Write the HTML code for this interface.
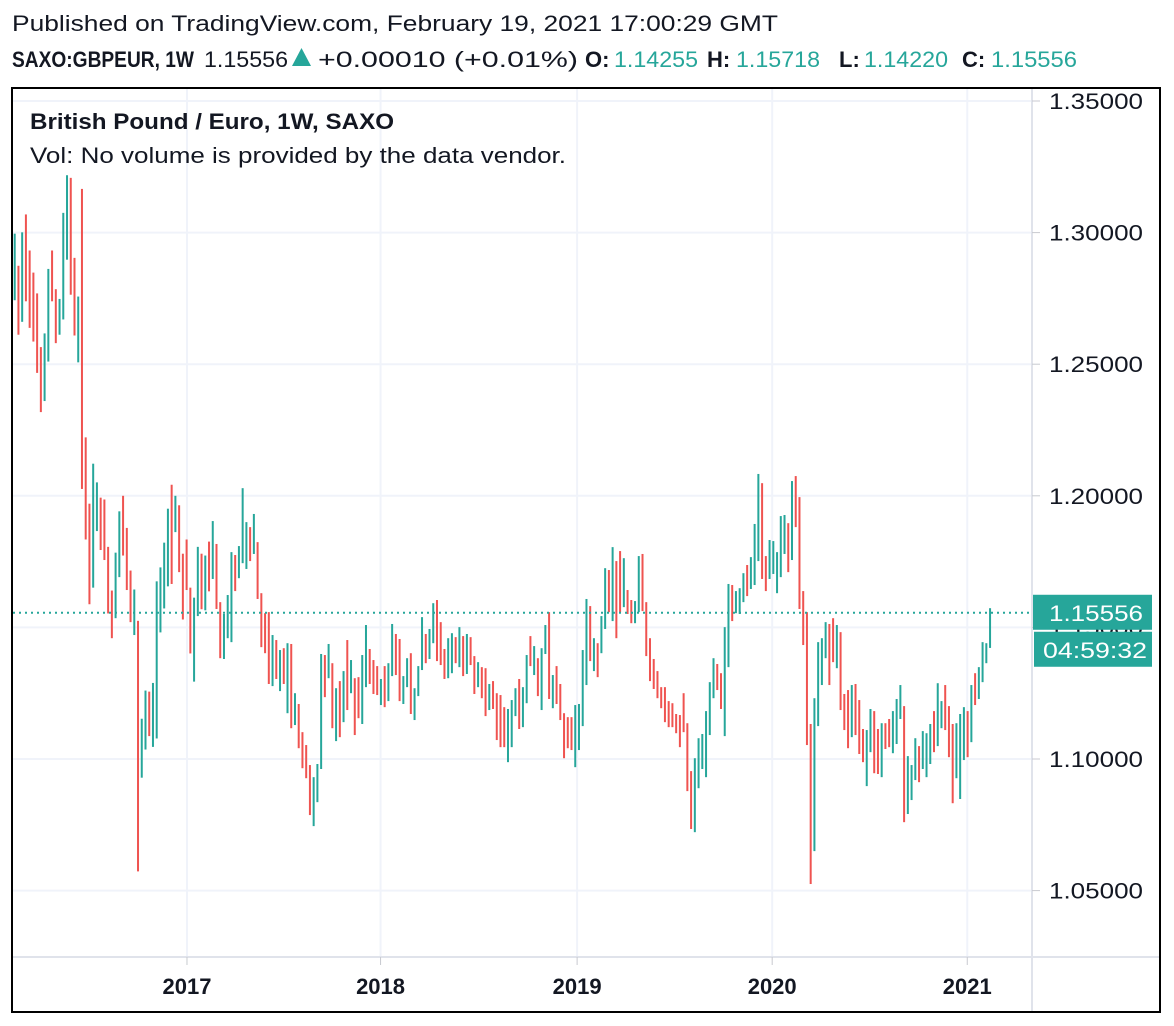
<!DOCTYPE html>
<html><head><meta charset="utf-8"><title>GBPEUR 1W</title>
<style>
html,body{margin:0;padding:0;background:#fff;}
svg{display:block;font-family:"Liberation Sans",sans-serif;}
</style></head>
<body>
<svg id="chart" width="1174" height="1026" viewBox="0 0 1174 1026">
  <text x="12" y="31" font-size="22" fill="#131722" textLength="766" lengthAdjust="spacingAndGlyphs">Published on TradingView.com, February 19, 2021 17:00:29 GMT</text>
  <g font-size="22" fill="#131722">
    <text x="12" y="67" font-weight="bold" textLength="182" lengthAdjust="spacingAndGlyphs">SAXO:GBPEUR, 1W</text>
    <text x="204" y="67" textLength="84" lengthAdjust="spacingAndGlyphs">1.15556</text>
    <polygon points="292,66 311,66 301.5,48" fill="#26a69a"/>
    <text x="318" y="67" textLength="260" lengthAdjust="spacingAndGlyphs">+0.00010 (+0.01%)</text>
    <text x="585" y="67" font-weight="bold">O:</text>
    <text x="614" y="67" fill="#26a69a" textLength="84" lengthAdjust="spacingAndGlyphs">1.14255</text>
    <text x="707" y="67" font-weight="bold">H:</text>
    <text x="736" y="67" fill="#26a69a" textLength="84" lengthAdjust="spacingAndGlyphs">1.15718</text>
    <text x="839" y="67" font-weight="bold">L:</text>
    <text x="864" y="67" fill="#26a69a" textLength="84" lengthAdjust="spacingAndGlyphs">1.14220</text>
    <text x="962" y="67" font-weight="bold">C:</text>
    <text x="991" y="67" fill="#26a69a" textLength="86" lengthAdjust="spacingAndGlyphs">1.15556</text>
  </g>
  <rect x="12" y="88" width="1148" height="924" fill="#fff" stroke="#000" stroke-width="2"/>
  <g id="grid"></g>
  <g id="bars"></g>
  <line x1="1032" y1="89" x2="1032" y2="1011" stroke="#e0e3eb" stroke-width="2"/>
  <line x1="13" y1="957" x2="1159" y2="957" stroke="#e0e3eb" stroke-width="2"/>
  <g id="yaxis"></g>
  <g id="xaxis"></g>
  <text x="30" y="129" font-size="22" font-weight="bold" fill="#131722" textLength="364" lengthAdjust="spacingAndGlyphs">British Pound / Euro, 1W, SAXO</text>
  <text x="30" y="163" font-size="22" fill="#131722" textLength="536" lengthAdjust="spacingAndGlyphs">Vol: No volume is provided by the data vendor.</text>
  <g id="lastprice"></g>
</svg>
<script>
const highs = [1.2996,1.2874,1.3001,1.3069,1.2932,1.2848,1.2769,1.2565,1.2617,1.2862,1.2932,1.2785,1.2748,1.3075,1.3218,1.3208,1.2904,1.2757,1.3166,1.2222,1.1970,1.2122,1.2051,1.1993,1.1986,1.1806,1.1640,1.1784,1.1941,1.2000,1.1878,1.1716,1.1644,1.1525,1.1153,1.1260,1.1256,1.1289,1.1675,1.1728,1.1822,1.1951,1.2042,1.2000,1.1964,1.1780,1.1834,1.1651,1.1613,1.1806,1.1780,1.1773,1.1826,
1.1904,1.1817,1.1596,1.1551,1.1623,1.1786,1.1775,1.1809,1.2029,1.1900,1.1881,1.1931,1.1824,1.1630,1.1554,1.1558,1.1471,1.1452,1.1414,1.1421,1.1440,1.1437,1.1250,1.1209,1.1102,1.1053,1.0977,1.0931,1.0981,1.1399,1.1395,1.1437,1.1364,1.1269,1.1296,1.1334,1.1452,1.1376,1.1307,1.1311,1.1395,1.1509,1.1418,1.1376,1.1353,1.1304,1.1353,1.1364,1.1513,1.1475,1.1456,
1.1315,1.1383,1.1402,1.1269,1.1353,1.1539,1.1475,1.1494,1.1592,1.1604,1.1520,1.1418,1.1459,1.1478,1.1463,1.1501,1.1467,1.1475,1.1463,1.1391,1.1368,1.1349,1.1345,1.1285,1.1296,1.1250,1.1243,1.1197,1.1190,1.1224,1.1269,1.1304,1.1273,1.1395,1.1467,1.1429,1.1383,1.1421,1.1509,1.1558,1.1319,1.1353,1.1285,1.1174,1.1159,1.1159,1.1205,1.1209,1.1414,1.1608,1.1581,
1.1459,1.1440,1.1543,1.1725,1.1718,1.1805,1.1752,1.1790,1.1763,1.1642,1.1604,1.1600,1.1771,1.1779,1.1596,1.1459,1.1380,1.1334,1.1273,1.1273,1.1220,1.1212,1.1171,1.1167,1.1250,1.1136,1.0954,1.1003,1.1079,1.1095,1.1182,1.1292,1.1383,1.1361,1.1326,1.1501,1.1665,1.1661,1.1638,1.1649,1.1706,1.1737,1.1767,1.1893,1.2083,1.2048,1.1771,1.1832,1.1828,1.1786,1.1923,1.1927,1.1896,1.2056,1.2075,1.1995,
1.1638,1.1558,1.1133,1.1231,1.1444,1.1459,1.1520,1.1513,1.1535,1.1509,1.1482,1.1247,1.1262,1.1281,1.1285,1.1224,1.1114,1.1110,1.1190,1.1182,1.1114,1.1136,1.1136,1.1152,1.1182,1.1228,1.1281,1.1201,1.1011,1.0977,1.1079,1.1049,1.1106,1.1098,1.1133,1.1182,1.1288,1.1220,1.1281,1.1201,1.1133,1.1136,1.1171,1.1197,1.1182,1.1281,1.1326,1.1349,1.1444,1.1440,1.1573];
const lows = [1.2743,1.2612,1.2661,1.2739,1.2638,1.2586,1.2467,1.2318,1.2360,1.2510,1.2739,1.2580,1.2612,1.2670,1.2897,1.2764,1.2609,1.2507,1.2026,1.1834,1.1588,1.1651,1.1866,1.1794,1.1756,1.1553,1.1459,1.1535,1.1691,1.1773,1.1642,1.1520,1.1471,1.0573,1.0929,1.1036,1.1087,1.1046,1.1078,1.1481,1.1572,1.1656,1.1665,1.1862,1.1710,1.1530,1.1642,1.1401,1.1294,1.1543,1.1569,1.1565,1.1637,
1.1684,1.1570,1.1383,1.1380,1.1459,1.1444,1.1638,1.1687,1.1744,1.1722,1.1752,1.1779,1.1608,1.1425,1.1402,1.1285,1.1277,1.1304,1.1258,1.1285,1.1174,1.1117,1.1129,1.1041,1.0965,1.0927,1.0787,1.0745,1.0836,1.0962,1.1235,1.1307,1.1117,1.1068,1.1083,1.1140,1.1186,1.1250,1.1091,1.1155,1.1133,1.1273,1.1285,1.1247,1.1243,1.1205,1.1197,1.1220,1.1315,1.1319,1.1220,
1.1209,1.1273,1.1171,1.1148,1.1239,1.1338,1.1364,1.1380,1.1440,1.1372,1.1357,1.1304,1.1307,1.1326,1.1364,1.1349,1.1315,1.1323,1.1357,1.1247,1.1273,1.1231,1.1163,1.1186,1.1190,1.1072,1.1045,1.1045,1.0988,1.1045,1.1163,1.1114,1.1121,1.1212,1.1353,1.1319,1.1239,1.1186,1.1399,1.1228,1.1193,1.1209,1.1148,1.1003,1.1041,1.1034,1.0969,1.1034,1.1125,1.1281,1.1372,
1.1334,1.1311,1.1402,1.1494,1.1558,1.1524,1.1459,1.1558,1.1577,1.1551,1.1516,1.1516,1.1558,1.1562,1.1391,1.1296,1.1266,1.1231,1.1193,1.1140,1.1121,1.1121,1.1098,1.1045,1.1102,1.0878,1.0734,1.0722,1.0889,1.0962,1.0931,1.1091,1.1231,1.1262,1.1190,1.1087,1.1349,1.1524,1.1554,1.1551,1.1596,1.1619,1.1646,1.1661,1.1752,1.1684,1.1638,1.1684,1.1703,1.1630,1.1691,1.1779,1.1710,1.1756,1.1881,1.1570,
1.1433,1.1053,1.0525,1.0650,1.1125,1.1281,1.1383,1.1281,1.1368,1.1345,1.1186,1.1110,1.1041,1.1083,1.1091,1.1019,1.0988,1.0897,1.1026,1.0946,1.0943,1.0931,1.1038,1.1045,1.1022,1.1057,1.1152,1.0760,1.0791,1.0844,1.0920,1.0912,1.0962,1.0931,1.0981,1.1026,1.1049,1.1117,1.1110,1.1007,1.0832,1.0927,1.0848,1.0996,1.1007,1.1064,1.1205,1.1228,1.1292,1.1364,1.1422];
const dirs = "trtrrrrrttrrtttrrtrrrttrrrrttrrrtrttrtttttrtrrrrttrtr" +
 "trrtttrtttrtrrrrtrtrtrtrrrrtttrtrtrtrtrrttrrrtrttrr" +
 "ttrtttrttrrrttrtrtrrtrrtrrrrtttrttrtrttrtrrrrrttttr" +
 "trttrtrrtrrtt" + "rrrrrrrrrrrrrr" + "tttttt" + "rr" + "tt" + "r" + "ttt" + "r" + "ttt" + "rr" + "ttttt" + "r" + "t" + "rr" +
 "rrrttttrrtrrrtrrrttrrtrrtttrtttrtttrttrrrtttrtrtttt";
const priceTicks = [1.35, 1.30, 1.25, 1.20, 1.15, 1.10, 1.05];
const yearLabels = ["2017", "2018", "2019", "2020", "2021"];
const yearBarIndex = [46.1, 97.9, 150.5, 202.7, 254.9];
const lastPrice = 1.15556;
const countdown = "04:59:32";

const NS = "http://www.w3.org/2000/svg";
function yScale(p){ return 101 + (1.35 - p) * 2632; }
function xScale(i){ return 14.7 + i * 3.737; }
function mk(tag, attrs, parent){
  const e = document.createElementNS(NS, tag);
  for (const k in attrs) e.setAttribute(k, attrs[k]);
  parent.appendChild(e);
  return e;
}
const grid = document.getElementById("grid");
const yaxis = document.getElementById("yaxis");
const xaxis = document.getElementById("xaxis");
const bars = document.getElementById("bars");
const lp = document.getElementById("lastprice");

priceTicks.forEach(function(p){
  const y = yScale(p);
  const g = mk("line", {x1: 13, x2: 1032, y1: y, y2: y, stroke: "#f0f3fa", "stroke-width": 2}, grid);
  
  
  const t = mk("line", {x1: 1032, x2: 1040, y1: y, y2: y, stroke: "#c8cad0", "stroke-width": 1}, yaxis);
  
  
  const l = mk("text", {x: 1049, y: y + 8, "font-size": 22, fill: "#131722", textLength: 94, lengthAdjust: "spacingAndGlyphs"}, yaxis);
  l.textContent = p.toFixed(5);
  
  
});
yearLabels.forEach(function(lbl, k){
  const x = xScale(yearBarIndex[k]);
  const g = mk("line", {x1: x, x2: x, y1: 89, y2: 957, stroke: "#f0f3fa", "stroke-width": 2}, grid);
  
  
  const t = mk("line", {x1: x, x2: x, y1: 957, y2: 965, stroke: "#c8cad0", "stroke-width": 1}, xaxis);
  
  
  const l = mk("text", {x: x, y: 994, "font-size": 22, "font-weight": "bold", fill: "#131722", "text-anchor": "middle"}, xaxis);
  l.textContent = lbl;
  
  
});
for (let i = 0; i < highs.length; i++){
  const x = xScale(i);
  const up = dirs[i] === "t";
  const b = mk("rect", {x: x - 1, y: yScale(highs[i]), width: 2, height: Math.max(1, yScale(lows[i]) - yScale(highs[i])), fill: up ? "#26a69a" : "#ef5350"}, bars);
  
  
}
const ly = yScale(lastPrice);
const dl = mk("line", {x1: 13, x2: 1032, y1: ly, y2: ly, stroke: "#26a69a", "stroke-width": 2, "stroke-dasharray": "2 4"}, lp);


const box = mk("rect", {x: 1033, y: ly - 18, width: 119, height: 35, fill: "#26a69a"}, lp);


const bt = mk("text", {x: 1049, y: ly + 8, "font-size": 22, fill: "#fff", textLength: 94, lengthAdjust: "spacingAndGlyphs"}, lp);
bt.textContent = lastPrice.toFixed(5);


const cb = mk("rect", {x: 1034, y: ly + 19, width: 118, height: 35, fill: "#26a69a"}, lp);


const ct = mk("text", {x: 1043, y: ly + 45, "font-size": 22, fill: "#fff", textLength: 104, lengthAdjust: "spacingAndGlyphs"}, lp);
ct.textContent = countdown;


</script>
</body></html>
